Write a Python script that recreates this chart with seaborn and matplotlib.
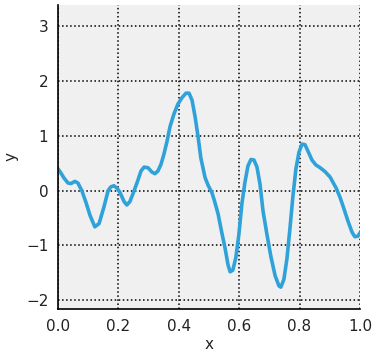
import numpy as np
import pandas as pd
import seaborn as sns
import matplotlib
matplotlib.use('Agg')
import matplotlib.pyplot as plt

sns.set_style('ticks')
plt.rcParams['font.family'] = ['DejaVu Sans']
plt.rcParams['text.color'] = '#222222'
plt.rcParams['axes.labelcolor'] = '#222222'
plt.rcParams['xtick.color'] = '#222222'
plt.rcParams['ytick.color'] = '#222222'

x = [0.000, 0.010, 0.020, 0.033, 0.043, 0.056, 0.066, 0.079, 0.093, 0.106,
     0.122, 0.136, 0.152, 0.166, 0.175, 0.185, 0.195, 0.205, 0.219, 0.228,
     0.238, 0.248, 0.262, 0.275, 0.285, 0.298, 0.311, 0.321, 0.331, 0.341,
     0.351, 0.361, 0.371, 0.384, 0.397, 0.411, 0.424, 0.434, 0.444, 0.454,
     0.464, 0.473, 0.487, 0.497, 0.510, 0.520, 0.530, 0.543, 0.553, 0.563,
     0.570, 0.579, 0.589, 0.599, 0.609, 0.619, 0.629, 0.639, 0.649, 0.659,
     0.669, 0.679, 0.692, 0.705, 0.719, 0.732, 0.738, 0.748, 0.758, 0.768,
     0.778, 0.788, 0.798, 0.808, 0.818, 0.828, 0.841, 0.854, 0.868, 0.884,
     0.901, 0.921, 0.934, 0.947, 0.960, 0.974, 0.983, 0.993, 1.000]
y = [0.40, 0.32, 0.23, 0.14, 0.13, 0.17, 0.14, 0.00, -0.22, -0.45,
     -0.66, -0.60, -0.30, 0.00, 0.07, 0.09, 0.05, -0.03, -0.20, -0.26,
     -0.20, -0.06, 0.15, 0.36, 0.43, 0.42, 0.34, 0.31, 0.36, 0.48,
     0.67, 0.90, 1.17, 1.40, 1.58, 1.70, 1.78, 1.78, 1.65, 1.35,
     0.98, 0.60, 0.24, 0.10, -0.04, -0.22, -0.42, -0.78, -1.04, -1.35,
     -1.48, -1.45, -1.22, -0.80, -0.24, 0.15, 0.45, 0.57, 0.56, 0.43,
     0.12, -0.37, -0.80, -1.20, -1.55, -1.74, -1.76, -1.62, -1.25, -0.70,
     -0.10, 0.40, 0.70, 0.85, 0.84, 0.72, 0.56, 0.47, 0.42, 0.35,
     0.25, 0.05, -0.12, -0.33, -0.55, -0.76, -0.84, -0.83, -0.77]

xticks = [0.0, 0.2, 0.4, 0.6, 0.8, 1.0]
yticks = [-2, -1, 0, 1, 2, 3]

df = pd.DataFrame({'x': x, 'y': y})

fig = plt.figure(figsize=(3.73, 3.52), dpi=100)
ax = fig.add_axes([0.1555, 0.122, 0.8095, 0.864])
ax.set_facecolor('#f0f0f0')
sns.lineplot(data=df, x='x', y='y', ax=ax, color='#30a2da', linewidth=2.6)

ax.set_xlim(0, 1)
ax.set_ylim(-2.16, 3.39)
ax.set_xticks(xticks)
ax.set_xticklabels(['0.0', '0.2', '0.4', '0.6', '0.8', '1.0'])
ax.set_yticks(yticks)
ax.set_yticklabels(['\u22122', '\u22121', '0', '1', '2', '3'])
ax.tick_params(length=0, labelsize=11, pad=7)
ax.grid(True, color='black', linestyle=':', linewidth=1.1)
ax.set_axisbelow(True)
for s in ['top', 'right']:
    ax.spines[s].set_visible(False)
for s in ['left', 'bottom']:
    ax.spines[s].set_color('black')
    ax.spines[s].set_linewidth(1.2)
ax.set_xlabel('x', fontsize=11, labelpad=2)
ax.set_ylabel('y', fontsize=11, labelpad=5)

fig.savefig('out.png', dpi=100)
